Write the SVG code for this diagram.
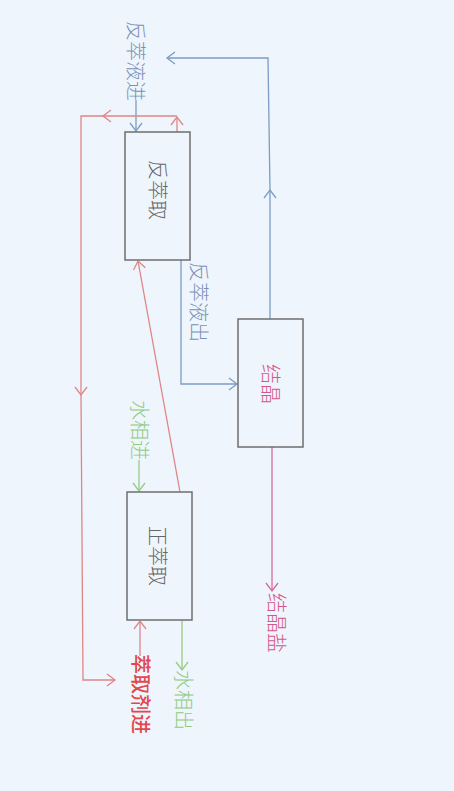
<svg xmlns="http://www.w3.org/2000/svg" width="454" height="791" viewBox="0 0 454 791">
<defs>
<style>
.box{fill:none;stroke:#6e6e6e;stroke-width:1.5}
.ln{fill:none;stroke-width:1.3}
.blue{stroke:#7b9cc4}
.red{stroke:#e08585}
.green{stroke:#94cc84}
.pink{stroke:#d96a98}
text{font-family:"Noto Sans CJK SC","Noto Sans",sans-serif;font-size:20px;text-anchor:middle;dominant-baseline:central;font-weight:300}
.tb{fill:#7891b8}
.tg{fill:#666}
.tr{fill:#e2474c;font-weight:500}
.tgr{fill:#8dcc7c}
.tp{fill:#d4578a}
</style>
<marker id="ab" markerUnits="userSpaceOnUse" markerWidth="20" markerHeight="20" viewBox="-10 -10 20 20" refX="0" refY="0" orient="auto"><path d="M-8,-6 L0,0 L-8,6" fill="none" stroke="#7b9cc4" stroke-width="1.3"/></marker>
<marker id="ar" markerUnits="userSpaceOnUse" markerWidth="20" markerHeight="20" viewBox="-10 -10 20 20" refX="0" refY="0" orient="auto"><path d="M-8,-6 L0,0 L-8,6" fill="none" stroke="#e08585" stroke-width="1.3"/></marker>
<marker id="ag" markerUnits="userSpaceOnUse" markerWidth="20" markerHeight="20" viewBox="-10 -10 20 20" refX="0" refY="0" orient="auto"><path d="M-8,-6 L0,0 L-8,6" fill="none" stroke="#94cc84" stroke-width="1.3"/></marker>
<marker id="ap" markerUnits="userSpaceOnUse" markerWidth="20" markerHeight="20" viewBox="-10 -10 20 20" refX="0" refY="0" orient="auto"><path d="M-8,-6 L0,0 L-8,6" fill="none" stroke="#d96a98" stroke-width="1.3"/></marker>
</defs>
<rect width="454" height="791" fill="#eff5fc"/>
<g id="connectors">
<path class="ln blue" d="M136,100 V131" marker-end="url(#ab)"/>
<path class="ln red" d="M177,132 V117" marker-end="url(#ar)"/>
<path class="ln red" d="M177,116 H103" marker-end="url(#ar)"/>
<path class="ln red" d="M103,116 H81 V395" marker-end="url(#ar)"/>
<path class="ln red" d="M81,395 L83,680 H115" marker-end="url(#ar)"/>
<path class="ln red" d="M180,492 L138,261" marker-end="url(#ar)"/>
<path class="ln blue" d="M181,260 V384 H237" marker-end="url(#ab)"/>
<path class="ln blue" d="M270,319 V190" marker-end="url(#ab)"/>
<path class="ln blue" d="M270,190 L268,58 H167" marker-end="url(#ab)"/>
<path class="ln green" d="M139,460 V491" marker-end="url(#ag)"/>
<path class="ln red" d="M140,656 V621" marker-end="url(#ar)"/>
<path class="ln green" d="M182,620 V670" marker-end="url(#ag)"/>
<path class="ln pink" d="M272,447 V591" marker-end="url(#ap)"/>
</g>
<g id="label-fancuiyejin"><text class="tb" transform="translate(136,61) rotate(90)">反萃液进</text></g>
<g id="node-fancuiqu"><rect class="box" x="125" y="132" width="65" height="128"/><text class="tg" transform="translate(158,190) rotate(90)">反萃取</text></g>
<g id="label-fancuiyechu"><text class="tb" transform="translate(199,302) rotate(90)">反萃液出</text></g>
<g id="node-jiejing"><rect class="box" x="238" y="319" width="65" height="128"/><text class="tp" transform="translate(271,384) rotate(90)">结晶</text></g>
<g id="label-shuixiangjin"><text class="tgr" transform="translate(140,430) rotate(90)">水相进</text></g>
<g id="node-zhengcuiqu"><rect class="box" x="127" y="492" width="65" height="128"/><text class="tg" transform="translate(158,556) rotate(90)">正萃取</text></g>
<g id="label-cuiqujijin"><text class="tr" transform="translate(141,694) rotate(90)">萃取剂进</text></g>
<g id="label-shuixiangchu"><text class="tgr" transform="translate(184,700) rotate(90)">水相出</text></g>
<g id="label-jiejingyan"><text class="tp" transform="translate(277,623) rotate(90)">结晶盐</text></g>
</svg>
